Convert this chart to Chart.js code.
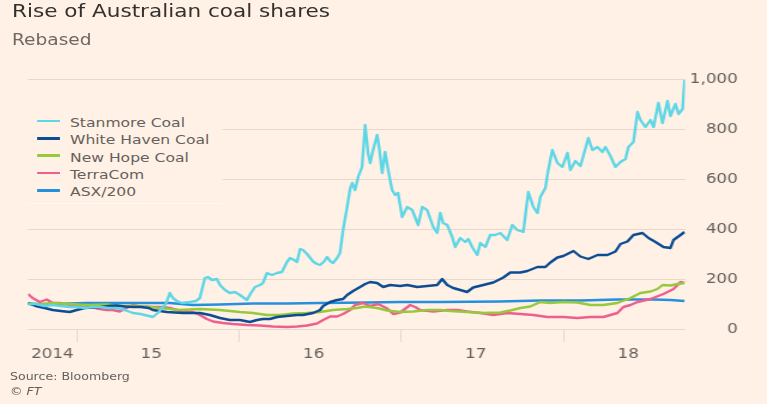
<!DOCTYPE html>
<html>
<head>
<meta charset="utf-8">
<script src="https://cdn.jsdelivr.net/npm/chart.js@4.4.1/dist/chart.umd.min.js"></script>
<style>
    html, body { margin: 0; padding: 0; background: #fff1e5; overflow: hidden; }
    #wrap {
        position: relative; width: 640px; height: 404px;
        transform: scaleX(1.1984); transform-origin: 0 0;
        font-family: "DejaVu Sans", sans-serif;
    }
    #c { position: absolute; left: 0; top: 0; }
    #title { position: absolute; left: 10px; top: 2px; font-size: 18px; line-height: 18px; color: #33302e; white-space: nowrap; }
    #subtitle { position: absolute; left: 10px; top: 33px; font-size: 15.5px; line-height: 15.5px; color: #6f6863; }
    #legend { position: absolute; left: 23.4px; top: 105px; width: 162px; height: 98px; background: #fff1e5; padding-top: 9px; box-sizing: border-box; }
    .row { position: relative; height: 17.3px; line-height: 17.3px; font-size: 13px; color: #66605c; white-space: nowrap; }
    .row span.swatch { position: absolute; left: 7.5px; top: 5.9px; width: 19.2px; height: 2.5px; }
    .row span.name { position: absolute; left: 35px; top: 0; }
    #source { position: absolute; left: 8.3px; top: 371px; font-size: 10.5px; line-height: 10.5px; color: #66605c; }
    #credit { position: absolute; left: 8.3px; top: 386px; font-size: 10.5px; line-height: 10.5px; color: #66605c; font-style: italic; }
</style>
</head>
<body>
<div id="wrap">
    <canvas id="c" width="640" height="404"></canvas>
    <div id="title">Rise of Australian coal shares</div>
    <div id="subtitle">Rebased</div>
    <div id="legend"></div>
    <div id="source">Source: Bloomberg</div>
    <div id="credit">© FT</div>
</div>
<script>
// series names and colours
const seriesNames = ["Stanmore Coal", "White Haven Coal", "New Hope Coal", "TerraCom", "ASX/200"];
const seriesColors = ["#5fd6e6", "#0d4c92", "#96c93c", "#ee5f8e", "#2590dc"];

// x values are dates as decimal years, y values rebased to 100
const stanmoreYears = [2014.70, 2014.747, 2014.802, 2014.852, 2014.901, 2014.957, 2015.000, 2015.049, 2015.099, 2015.148,
    2015.198, 2015.247, 2015.296, 2015.346, 2015.395, 2015.444, 2015.469, 2015.500, 2015.531, 2015.549,
    2015.574, 2015.593, 2015.617, 2015.648, 2015.698, 2015.735, 2015.759, 2015.790, 2015.809, 2015.833,
    2015.864, 2015.883, 2015.914, 2015.944, 2015.975, 2016.006, 2016.049, 2016.074, 2016.099, 2016.130,
    2016.148, 2016.173, 2016.204, 2016.235, 2016.265, 2016.296, 2016.315, 2016.340, 2016.358, 2016.377,
    2016.395, 2016.420, 2016.457, 2016.481, 2016.500, 2016.525, 2016.543, 2016.562, 2016.580, 2016.605,
    2016.623, 2016.642, 2016.667, 2016.685, 2016.698, 2016.716, 2016.735, 2016.759, 2016.778, 2016.796,
    2016.809, 2016.827, 2016.852, 2016.864, 2016.883, 2016.901, 2016.920, 2016.944, 2016.963, 2016.981,
    2017.006, 2017.037, 2017.068, 2017.105, 2017.130, 2017.160, 2017.198, 2017.222, 2017.241, 2017.259,
    2017.284, 2017.315, 2017.333, 2017.364, 2017.395, 2017.414, 2017.438, 2017.469, 2017.488, 2017.519,
    2017.549, 2017.580, 2017.611, 2017.654, 2017.685, 2017.716, 2017.753, 2017.784, 2017.815, 2017.840,
    2017.858, 2017.889, 2017.907, 2017.932, 2017.963, 2017.994, 2018.025, 2018.043, 2018.074, 2018.105,
    2018.123, 2018.154, 2018.179, 2018.210, 2018.241, 2018.259, 2018.290, 2018.321, 2018.352, 2018.383,
    2018.401, 2018.432, 2018.457, 2018.475, 2018.506, 2018.537, 2018.556, 2018.586, 2018.611, 2018.642,
    2018.660, 2018.691, 2018.710, 2018.735, 2018.747];
const stanmoreValues = [100, 100, 92, 96, 92, 88, 88, 84, 88, 88,
    84, 84, 76, 64, 60, 52, 48, 64, 88, 100,
    144, 124, 112, 104, 108, 112, 124, 204, 208, 196,
    200, 176, 156, 144, 148, 136, 116, 144, 168, 176,
    184, 224, 216, 224, 228, 268, 284, 276, 268, 320,
    316, 300, 270, 260, 256, 270, 288, 272, 264, 284,
    304, 396, 488, 560, 584, 556, 608, 648, 816, 704,
    664, 716, 776, 728, 624, 708, 636, 556, 536, 544,
    448, 488, 476, 416, 488, 476, 408, 384, 464, 424,
    416, 368, 328, 364, 348, 360, 328, 296, 344, 328,
    376, 376, 384, 356, 416, 396, 388, 548, 488, 464,
    528, 564, 636, 716, 664, 648, 704, 636, 672, 652,
    692, 764, 716, 728, 708, 728, 692, 648, 668, 680,
    728, 748, 868, 836, 808, 836, 808, 904, 824, 912,
    852, 900, 860, 880, 996];

const whiteHavenYears = [2014.70, 2014.747, 2014.802, 2014.852, 2014.901, 2014.957, 2015.000, 2015.049, 2015.099, 2015.148,
    2015.198, 2015.247, 2015.296, 2015.346, 2015.395, 2015.444, 2015.469, 2015.512, 2015.556, 2015.605,
    2015.654, 2015.698, 2015.759, 2015.821, 2015.883, 2015.944, 2016.006, 2016.068, 2016.111, 2016.148,
    2016.191, 2016.235, 2016.296, 2016.358, 2016.395, 2016.457, 2016.500, 2016.519, 2016.562, 2016.605,
    2016.642, 2016.667, 2016.704, 2016.747, 2016.778, 2016.809, 2016.852, 2016.889, 2016.932, 2016.994,
    2017.037, 2017.099, 2017.160, 2017.222, 2017.253, 2017.284, 2017.321, 2017.364, 2017.407, 2017.444,
    2017.506, 2017.568, 2017.630, 2017.673, 2017.735, 2017.778, 2017.840, 2017.889, 2017.920, 2017.963,
    2018.000, 2018.062, 2018.105, 2018.154, 2018.210, 2018.272, 2018.321, 2018.352, 2018.395, 2018.432,
    2018.488, 2018.525, 2018.568, 2018.617, 2018.660, 2018.679, 2018.722, 2018.747];
const whiteHavenValues = [104, 92, 84, 76, 72, 68, 76, 84, 86, 88,
    92, 94, 90, 88, 88, 84, 76, 72, 68, 66,
    64, 64, 64, 56, 44, 36, 36, 28, 36, 40,
    40, 48, 52, 56, 56, 64, 76, 92, 108, 116,
    120, 136, 152, 168, 180, 188, 184, 168, 176, 172,
    176, 168, 172, 176, 200, 176, 164, 156, 148, 166,
    176, 186, 206, 226, 226, 232, 248, 248, 266, 286,
    292, 312, 290, 280, 296, 296, 310, 340, 350, 376,
    384, 364, 348, 328, 324, 356, 376, 388];

const newHopeYears = [2014.70, 2014.772, 2014.852, 2014.957, 2015.062, 2015.185, 2015.265, 2015.370, 2015.451, 2015.512,
    2015.636, 2015.759, 2015.883, 2016.006, 2016.086, 2016.173, 2016.253, 2016.333, 2016.420, 2016.500,
    2016.580, 2016.667, 2016.728, 2016.778, 2016.852, 2016.914, 2016.994, 2017.074, 2017.160, 2017.241,
    2017.302, 2017.407, 2017.506, 2017.611, 2017.673, 2017.735, 2017.796, 2017.858, 2017.920, 2018.000,
    2018.086, 2018.167, 2018.247, 2018.333, 2018.414, 2018.475, 2018.537, 2018.580, 2018.611, 2018.660,
    2018.704, 2018.747];
const newHopeValues = [104, 98, 104, 100, 96, 98, 92, 92, 88, 84,
    76, 80, 76, 68, 64, 56, 56, 62, 64, 68,
    76, 80, 84, 90, 84, 74, 68, 70, 76, 76,
    72, 68, 64, 66, 74, 84, 90, 108, 104, 108,
    106, 96, 96, 104, 124, 144, 150, 160, 176, 174,
    180, 184];

const terraComYears = [2014.70, 2014.728, 2014.772, 2014.815, 2014.852, 2014.895, 2014.957, 2015.000, 2015.062, 2015.123,
    2015.185, 2015.222, 2015.265, 2015.346, 2015.389, 2015.469, 2015.531, 2015.574, 2015.636, 2015.716,
    2015.759, 2015.802, 2015.840, 2015.901, 2015.963, 2016.049, 2016.130, 2016.210, 2016.296, 2016.358,
    2016.420, 2016.481, 2016.519, 2016.562, 2016.605, 2016.642, 2016.685, 2016.716, 2016.765, 2016.809,
    2016.858, 2016.914, 2016.951, 2016.994, 2017.056, 2017.086, 2017.117, 2017.198, 2017.284, 2017.346,
    2017.407, 2017.488, 2017.568, 2017.654, 2017.735, 2017.815, 2017.901, 2018.000, 2018.086, 2018.167,
    2018.247, 2018.333, 2018.370, 2018.414, 2018.457, 2018.537, 2018.617, 2018.679, 2018.722, 2018.747];
const terraComValues = [140, 124, 108, 118, 104, 104, 96, 90, 96, 82,
    76, 76, 70, 96, 90, 88, 88, 84, 72, 68,
    56, 40, 30, 24, 20, 16, 14, 10, 8, 10,
    14, 22, 36, 50, 50, 60, 76, 96, 104, 92,
    100, 82, 60, 66, 96, 88, 76, 70, 76, 76,
    70, 64, 56, 64, 60, 56, 48, 48, 44, 48,
    48, 64, 88, 96, 108, 120, 140, 160, 188, 184];

const asxYears = [2014.70, 2014.852, 2015.062, 2015.185, 2015.327, 2015.469, 2015.574, 2015.716, 2015.883, 2016.086,
    2016.296, 2016.500, 2016.790, 2016.994, 2017.241, 2017.611, 2017.858, 2018.105, 2018.333, 2018.556,
    2018.660, 2018.747];
const asxValues = [100, 100, 104, 104, 104, 104, 104, 96, 98, 102,
    102, 104, 106, 108, 108, 110, 114, 114, 118, 118,
    116, 112];

// axis ticks
const yearBoundaries = [2015, 2016, 2017, 2018];
const yearLabelPositions = [2014.85, 2015.46, 2016.46, 2017.46, 2018.4];
const yearLabels = ["2014", "15", "16", "17", "18"];
const valueTicks = [0, 200, 400, 600, 800, 1000];

const gridColor = "#e6d9cc";
const textColor = "#66605c";

function toPoints(xs, ys) {
    return xs.map(function (x, i) { return { x: x, y: ys[i] }; });
}

const allSeries = [
    toPoints(stanmoreYears, stanmoreValues),
    toPoints(whiteHavenYears, whiteHavenValues),
    toPoints(newHopeYears, newHopeValues),
    toPoints(terraComYears, terraComValues),
    toPoints(asxYears, asxValues)
];

// legend as html, sitting over the grid lines
const legend = document.getElementById("legend");
seriesNames.forEach(function (name, i) {
    const row = document.createElement("div");
    row.className = "row";
    row.innerHTML = '<span class="swatch" style="background:' + seriesColors[i] + '"></span><span class="name"></span>';
    row.querySelector(".name").textContent = name;
    legend.appendChild(row);
});

const ctx = document.getElementById("c").getContext("2d");
const myChart = new Chart(ctx, {
    type: "line",
    data: {
        datasets: allSeries.map(function (pts, i) {
            return {
                label: seriesNames[i],
                data: pts,
                borderColor: seriesColors[i],
                borderWidth: 2.4,
                pointRadius: 0,
                tension: 0,
                borderJoinStyle: "round",
                fill: false
            };
        })
    },
    options: {
        responsive: false,
        animation: false,
        devicePixelRatio: 1,
        layout: { padding: { left: 23.4, right: 24.4, top: 79, bottom: 43 } },
        plugins: { legend: { display: false }, tooltip: { enabled: false }, title: { display: false } },
        scales: {
            x: {
                type: "linear",
                min: 2014.7,
                max: 2018.75,
                afterBuildTicks: function (scale) {
                    scale.ticks = yearBoundaries.concat(yearLabelPositions)
                        .sort(function (a, b) { return a - b; })
                        .map(function (v) { return { value: v }; });
                },
                afterFit: function (scale) { scale.height = 32; },
                border: { display: false },
                grid: {
                    drawOnChartArea: false,
                    drawTicks: true,
                    tickLength: 13,
                    lineWidth: 1,
                    color: function (c) {
                        return c.tick && yearBoundaries.indexOf(c.tick.value) >= 0 ? gridColor : "rgba(0,0,0,0)";
                    }
                },
                ticks: {
                    autoSkip: false,
                    maxRotation: 0,
                    padding: 4,
                    color: textColor,
                    font: { family: "DejaVu Sans", size: 14 },
                    callback: function (v) {
                        const i = yearLabelPositions.indexOf(v);
                        return i >= 0 ? yearLabels[i] : "";
                    }
                }
            },
            y: {
                position: "right",
                min: 0,
                max: 1000,
                afterBuildTicks: function (scale) {
                    scale.ticks = valueTicks.map(function (v) { return { value: v }; });
                },
                afterFit: function (scale) { scale.width = 44; },
                border: { display: false },
                grid: { color: gridColor, lineWidth: 1, drawTicks: false },
                ticks: {
                    crossAlign: "far",
                    padding: 2.5,
                    color: textColor,
                    font: { family: "DejaVu Sans", size: 14 },
                    callback: function (v) { return v.toLocaleString("en-US"); }
                }
            }
        }
    }
});
</script>
</body>
</html>
